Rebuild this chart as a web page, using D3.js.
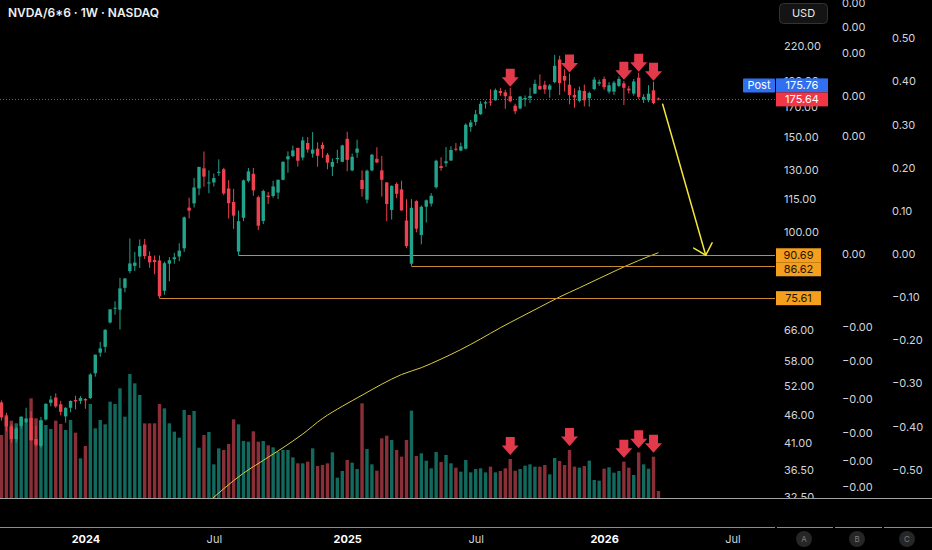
<!DOCTYPE html>
<html lang="en">
<head>
<meta charset="UTF-8" />
<title>NVDA 1W</title>
<script src="https://d3js.org/d3.v7.min.js"></script>
<style>
  html, body { margin: 0; padding: 0; background: #000; overflow: hidden; }
  svg { display: block; font-family: Inter, "Noto Sans", sans-serif; }
</style>
</head>
<body>
<div class="canvas"></div>
<script>
// weekly bars, the first one is the week of 4 Sep 2023
const firstWeek = "2023-09-04";

const open = [
  48.6, 45.8, 43.9, 41.6, 44.0, 44.6, 45.5, 41.6, 40.4, 45.2, 48.5, 49.6, 48.2, 45.8, 47.5, 49.1, 48.9,
  49.3, 49.5, 55.0, 60.0, 61.5, 68.2, 72.3, 72.0, 79.0, 84.8,
  86.7, 90.2, 94.9, 90.4, 88.9, 88.7, 78.0, 87.5, 89.2, 90.2,
  93.4, 111.0, 113.0, 120.4, 131.1, 123.2, 123.5, 128.6, 130.6, 120.4,
  113.7, 92.1, 106.3, 124.3, 128.1, 116.0, 104.9, 116.8, 116.6, 118.3,
  124.9, 136.2, 138.1, 143.0, 137.2, 146.0, 139.5, 142.5, 144.8, 138.9,
  132.0, 136.3, 134.8, 148.6, 130.0, 140.1, 124.8, 114.8, 130.0, 136.5,
  130.0, 123.5, 109.9, 122.7, 119.9, 105.1, 87.5, 114.1, 98.8, 111.4,
  112.9, 121.0, 132.4, 134.0, 135.5, 142.5, 141.4, 142.5, 156.3, 159.6,
  165.0, 172.6, 174.0, 175.0, 182.0, 181.0, 178.0, 171.0, 169.0, 175.6,
  176.6, 180.0, 186.0, 186.9, 183.0, 189.0, 208.0, 194.0, 186.9, 179.0,
  174.5, 182.0, 176.5, 183.5, 187.8, 191.5, 181.5, 181.5, 186.0, 188.0,
  183.8, 180.0, 192.5, 175.5, 175.0, 182.5, 176.3
];
const high = [
  49.0, 46.5, 44.3, 43.8, 45.8, 47.5, 46.8, 44.0, 45.7, 48.4, 50.0, 50.5, 48.9, 47.6, 49.0, 50.0, 49.9,
  49.5, 55.0, 59.5, 62.8, 66.3, 72.1, 74.6, 82.4, 82.3, 97.4,
  92.0, 97.0, 97.2, 92.2, 90.6, 90.6, 88.3, 90.0, 91.6, 95.4,
  106.9, 115.8, 125.9, 132.0, 140.8, 130.0, 128.3, 136.2, 131.4, 124.7,
  120.2, 109.6, 125.0, 131.3, 131.3, 116.8, 119.8, 118.6, 124.4, 125.0,
  135.0, 140.9, 144.4, 143.1, 149.8, 149.7, 152.9, 146.4, 146.5, 139.95,
  136.7, 141.9, 144.9, 153.1, 139.6, 148.0, 130.0, 130.4, 139.4, 143.4,
  138.2, 123.7, 122.0, 123.5, 124.4, 115.0, 115.1, 114.5, 112.0, 114.9,
  118.0, 136.0, 137.4, 143.5, 144.0, 146.0, 146.2, 158.7, 161.0, 167.9,
  174.25, 174.7, 183.3, 183.9, 184.5, 183.0, 184.5, 172.4, 178.0, 178.6,
  184.6, 191.0, 195.3, 190.0, 187.5, 212.2, 211.3, 199.6, 196.0, 184.0,
  185.5, 187.0, 181.5, 193.0, 191.0, 193.5, 189.0, 190.0, 193.5, 190.0,
  186.0, 191.5, 196.7, 179.5, 186.5, 189.3, 177.0
];
const low = [
  45.0, 43.0, 41.0, 41.0, 43.5, 44.3, 41.3, 40.3, 40.1, 45.0, 47.8, 47.5, 46.0, 44.6, 46.6, 47.2, 48.3,
  47.3, 49.3, 54.2, 59.0, 60.0, 67.9, 70.5, 66.2, 77.5, 84.0,
  84.8, 85.9, 89.3, 86.0, 83.7, 75.61, 76.7, 81.2, 87.5, 88.4,
  92.0, 106.0, 111.0, 117.0, 121.3, 118.0, 121.4, 127.0, 117.0, 106.0,
  101.4, 90.69, 104.8, 123.5, 116.7, 100.9, 103.5, 112.7, 115.7, 115.1,
  124.6, 128.7, 137.5, 132.1, 135.6, 140.1, 137.2, 132.0, 137.1, 130.6,
  126.9, 134.0, 134.6, 129.5, 129.5, 137.1, 116.3, 113.0, 129.5, 134.0,
  116.3, 104.8, 105.5, 115.5, 109.5, 93.6, 86.62, 100.0, 95.0, 104.2,
  111.5, 120.3, 129.8, 132.0, 135.4, 140.9, 141.0, 142.0, 153.1, 157.2,
  164.4, 168.9, 170.9, 174.7, 178.3, 168.8, 173.4, 165.0, 168.4, 170.4,
  172.9, 179.7, 183.0, 179.8, 176.8, 188.0, 178.9, 181.6, 172.0, 169.5,
  173.5, 170.5, 170.3, 182.5, 186.0, 183.0, 180.0, 179.0, 185.0, 171.5,
  180.0, 178.5, 176.0, 173.0, 173.5, 172.0, 175.0
];
const close = [
  45.6, 43.9, 41.6, 43.5, 45.7, 45.4, 41.4, 40.6, 45.0, 48.3, 49.2, 47.8, 46.7, 47.5, 48.9, 48.8, 49.5,
  49.0, 54.7, 59.5, 61.1, 66.1, 72.1, 72.6, 78.8, 82.2, 87.6,
  87.9, 94.3, 90.4, 88.0, 88.1, 76.2, 87.7, 88.8, 89.9, 92.5,
  106.5, 109.6, 120.9, 131.9, 126.6, 123.5, 125.8, 129.2, 117.9, 113.1,
  107.3, 104.8, 124.6, 129.4, 119.4, 102.8, 119.1, 116.0, 121.4, 124.9,
  134.8, 138.0, 141.5, 135.4, 147.6, 142.0, 141.95, 138.3, 142.4, 134.3,
  134.7, 137.0, 144.5, 135.9, 137.7, 142.6, 120.1, 129.8, 138.9, 134.4,
  124.9, 112.7, 121.7, 117.7, 109.7, 94.3, 110.9, 101.5, 111.4, 114.5,
  116.7, 135.4, 131.3, 135.1, 141.7, 142.0, 143.9, 157.75, 159.3, 164.9,
  172.4, 173.5, 173.7, 182.7, 180.45, 178.0, 174.2, 167.0, 177.8, 176.7,
  178.2, 187.6, 183.2, 183.2, 186.3, 202.5, 188.2, 190.2, 178.9, 177.0,
  182.5, 175.0, 180.5, 191.0, 189.0, 185.0, 186.5, 188.5, 191.5, 184.5,
  182.5, 189.5, 177.5, 177.5, 180.0, 173.0, 175.64
];
// millions of shares
const volume = [
  1890, 2490, 2320, 2240, 2440, 2240, 2990, 2390, 2340, 2190, 2070, 2320, 2220, 2040, 2340, 1960, 1190,
  1560, 2820, 2090, 2340, 2210, 2890, 2820, 3290, 2440, 3720,
  3440, 3090, 2240, 2240, 2240, 2820, 2690, 2240, 1990, 1810,
  2640, 2490, 2610, 1510, 1890, 1980, 1010, 1490, 1440, 1620,
  2360, 2210, 1710, 1690, 2000, 1690, 1710, 1580, 1520, 1390,
  1440, 1440, 1220, 1040, 1040, 1090, 1490, 960, 990, 1040,
  1370, 610, 810, 1140, 1060, 870, 2840, 1470, 1010, 820,
  1790, 1870, 1740, 1440, 1240, 1740, 2620, 1260, 1340, 1120,
  890, 1380, 1080, 1290, 1040, 910, 790, 1140, 770, 870,
  890, 770, 940, 770, 810, 890, 1170, 820, 870, 970,
  1010, 940, 940, 990, 710, 1200, 1110, 990, 1440, 940,
  910, 960, 1120, 540, 520, 880, 920, 760, 810, 1090,
  910, 690, 1370, 1010, 880, 1240, 210
];

// moving average, read every 4th week
const maWeeks = ["2024-06-17", "2024-07-15", "2024-08-12", "2024-09-09", "2024-10-07", "2024-11-04",
  "2024-12-02", "2024-12-30", "2025-01-27", "2025-02-24", "2025-03-24", "2025-04-21", "2025-05-19",
  "2025-06-16", "2025-07-14", "2025-08-11", "2025-09-08", "2025-10-06", "2025-11-03", "2025-12-01",
  "2025-12-29", "2026-01-26", "2026-02-23", "2026-03-23"];
const maValues = [31.3, 33.7, 36.0, 38.0, 40.1, 42.5, 45.4, 47.8, 50.1, 52.5, 54.7, 56.3, 58.4,
  60.8, 63.6, 66.7, 69.7, 72.8, 76.0, 79.0, 82.2, 85.5, 88.7, 91.7];

// weeks marked with the red arrows
const signalWeeks = ["2025-08-25", "2025-11-17", "2026-02-02", "2026-02-23", "2026-03-16"];

// horizontal support levels
const levels = [90.69, 86.62, 75.61];
const levelFrom = ["2024-08-05", "2025-04-07", "2024-04-15"];

// projected move drawing
const projFrom = { week: "2026-03-29", price: 172 };
const projTo = { week: "2026-05-29", price: 90.69 };

const postPrice = 175.76;
const lastPrice = 175.64;

const priceTicks = [220, 190, 170, 150, 130, 115, 100, 66, 58, 52, 46, 41, 36.5, 32.5];
const scaleBTicks = [0.000583, 0.000526, 0.000467, 0.000367, 0.000274, 0, -0.000168, -0.000247,
  -0.000337, -0.000414, -0.00048, -0.00054];
const scaleCTicks = [0.5, 0.4, 0.3, 0.2, 0.1, 0, -0.1, -0.2, -0.3, -0.4, -0.5];
const timeTicks = ["2024-01-01", "2024-07-01", "2025-01-06", "2025-07-07", "2026-01-05", "2026-07-06"];
const timeLabels = ["2024", "Jul", "2025", "Jul", "2026", "Jul"];

const width = 932;
const height = 550;
const paneRight = 775;
const paneBottom = 498;
const axisTop = 527;

const up = "#22a38b";
const down = "#ee4150";
const upVol = "#12695d";
const downVol = "#8a2f37";
const textColor = "#d1d4dc";

const parse = d3.utcParse("%Y-%m-%d");
const fmt2 = d3.format(".2f");
// keep the sign on values that round to zero, like the platform does
const signed2 = v => (v < 0 ? "\u2212" : "") + fmt2(Math.abs(v));

const start = parse(firstWeek);
const bars = open.map((o, i) => ({
  w: d3.utcMonday.offset(start, i),
  o: o, h: high[i], l: low[i], c: close[i], v: volume[i]
}));

const x = d3.scaleUtc()
  .domain([parse("2024-01-01"), parse("2026-01-05")])
  .range([85.4, 604.1]);
const y = d3.scaleLog().domain([32.4, 267.7]).range([paneBottom, 0]);
const yVol = d3.scaleLinear().domain([0, d3.max(volume)]).range([paneBottom, paneBottom - 124]);
const yC = d3.scaleLinear().domain([0, 0.5]).range([254, 38.3]);
const yB = d3.scaleLinear().domain([0, 0.0005]).range([254, 38.3]);

const svg = d3.select(".canvas").append("svg")
  .attr("width", width)
  .attr("height", height)
  .style("background", "#000");

svg.append("clipPath").attr("id", "pane")
  .append("rect").attr("x", 0).attr("y", 0).attr("width", paneRight).attr("height", paneBottom);
svg.append("clipPath").attr("id", "scales")
  .append("rect").attr("x", paneRight).attr("y", 0).attr("width", width - paneRight).attr("height", paneBottom);

const pane = svg.append("g").attr("clip-path", "url(#pane)");

// volume
pane.append("g").selectAll("rect").data(bars).enter().append("rect")
  .attr("x", d => x(d.w) - 1.7)
  .attr("y", d => yVol(d.v))
  .attr("width", 3.4)
  .attr("height", d => paneBottom - yVol(d.v))
  .attr("fill", d => d.c >= d.o ? upVol : downVol);

// moving average
const maLine = d3.line()
  .x(d => x(parse(d)))
  .y((d, i) => y(maValues[i]))
  .curve(d3.curveMonotoneX);
pane.append("path")
  .attr("d", maLine(maWeeks))
  .attr("fill", "none")
  .attr("stroke", "#d9cd3f")
  .attr("stroke-width", 1);

// support levels
pane.append("g").selectAll("line").data(levels).enter().append("line")
  .attr("x1", (d, i) => x(parse(levelFrom[i])))
  .attr("x2", paneRight)
  .attr("y1", d => Math.round(y(d)) + 0.5)
  .attr("y2", d => Math.round(y(d)) + 0.5)
  .attr("stroke", "#cc8a30")
  .attr("stroke-width", 1);

// last price line
pane.append("line")
  .attr("x1", 0).attr("x2", paneRight)
  .attr("y1", Math.round(y(lastPrice)) + 0.5).attr("y2", Math.round(y(lastPrice)) + 0.5)
  .attr("stroke", "#5558d8")
  .attr("stroke-width", 1)
  .attr("stroke-dasharray", "1,2");

// candles
const candles = pane.append("g").selectAll("g").data(bars).enter().append("g");
candles.append("line")
  .attr("x1", d => x(d.w)).attr("x2", d => x(d.w))
  .attr("y1", d => y(d.h)).attr("y2", d => y(d.l))
  .attr("stroke", d => d.c >= d.o ? up : down)
  .attr("stroke-width", 1);
candles.append("rect")
  .attr("x", d => x(d.w) - 1.7)
  .attr("y", d => y(Math.max(d.o, d.c)))
  .attr("width", 3.4)
  .attr("height", d => Math.max(1, Math.abs(y(d.o) - y(d.c))))
  .attr("fill", d => d.c >= d.o ? up : down);

// red signal arrows over price and volume
const arrowPath = "M0,0L-8.5,-9.5H-4.5V-18H4.5V-9.5H8.5Z";
const signals = signalWeeks.map(s => bars.find(b => +b.w === +parse(s)));
pane.append("g").selectAll("path").data(signals).enter().append("path")
  .attr("d", arrowPath)
  .attr("transform", d => `translate(${x(d.w)},${y(d.h) - 1})`)
  .attr("fill", "#e23a4b");
pane.append("g").selectAll("path").data(signals).enter().append("path")
  .attr("d", arrowPath)
  .attr("transform", d => `translate(${x(d.w)},${yVol(d.v) - 4})`)
  .attr("fill", "#e23a4b");

// projected move arrow
const p0 = [x(parse(projFrom.week)), y(projFrom.price)];
const p1 = [x(parse(projTo.week)), y(projTo.price)];
const ang = Math.atan2(p0[1] - p1[1], p0[0] - p1[0]);
const head = [ang - 0.75, ang + 0.75].map(a => [p1[0] + 14 * Math.cos(a), p1[1] + 14 * Math.sin(a)]);
const proj = svg.append("g").attr("stroke", "#f2e43c").attr("stroke-width", 1.5)
  .attr("fill", "none").attr("stroke-linecap", "round");
proj.append("line").attr("x1", p0[0]).attr("y1", p0[1]).attr("x2", p1[0]).attr("y2", p1[1]);
proj.append("path").attr("d", d3.line()([head[0], p1, head[1]]));

// right-hand scales
const scales = svg.append("g").attr("clip-path", "url(#scales)");
const priceAxis = scales.append("g").attr("transform", "translate(784,0)")
  .call(d3.axisRight(y).tickValues(priceTicks).tickFormat(fmt2).tickSize(0).tickPadding(0));
const bAxis = scales.append("g").attr("transform", "translate(842,0)")
  .call(d3.axisRight(yB).tickValues(scaleBTicks).tickFormat(signed2).tickSize(0).tickPadding(0));
const cAxis = scales.append("g").attr("transform", "translate(892,0)")
  .call(d3.axisRight(yC).tickValues(scaleCTicks).tickFormat(signed2).tickSize(0).tickPadding(0));
[priceAxis, bAxis, cAxis].forEach(a => {
  a.select(".domain").remove();
  a.selectAll("text").attr("fill", textColor).style("font-size", "11px").style("font-family", "Inter, sans-serif");
});

// level labels, pushed apart when they touch
const boxH = 14;
let prevBottom = -Infinity;
const levelBoxes = levels.map(v => ({ v, cy: y(v) }))
  .sort((a, b) => a.cy - b.cy)
  .map(d => {
    const top = Math.max(d.cy - boxH / 2, prevBottom);
    prevBottom = top + boxH;
    return { v: d.v, top };
  });
const lb = svg.append("g").selectAll("g").data(levelBoxes).enter().append("g");
lb.append("rect").attr("x", 776).attr("y", d => d.top).attr("width", 45).attr("height", boxH)
  .attr("fill", "#f59f1e");
lb.append("text").attr("x", 798.5).attr("y", d => d.top + boxH / 2).attr("dy", "0.35em")
  .attr("text-anchor", "middle").attr("fill", "#241600").style("font-size", "11px")
  .text(d => fmt2(d.v));

// post / last price labels
const lastY = y(lastPrice);
const postY = lastY - boxH;
svg.append("rect").attr("x", 743).attr("y", postY - boxH / 2).attr("width", 32).attr("height", boxH)
  .attr("rx", 1).attr("fill", "#2f6ff0");
svg.append("text").attr("x", 759).attr("y", postY).attr("dy", "0.35em").attr("text-anchor", "middle")
  .attr("fill", "#fff").style("font-size", "11px").text("Post");
svg.append("rect").attr("x", 776).attr("y", postY - boxH / 2).attr("width", 52).attr("height", boxH)
  .attr("fill", "#2f6ff0");
svg.append("text").attr("x", 802).attr("y", postY).attr("dy", "0.35em").attr("text-anchor", "middle")
  .attr("fill", "#fff").style("font-size", "11px").text(fmt2(postPrice));
svg.append("rect").attr("x", 776).attr("y", lastY - boxH / 2).attr("width", 52).attr("height", boxH)
  .attr("fill", "#f23645");
svg.append("text").attr("x", 802).attr("y", lastY).attr("dy", "0.35em").attr("text-anchor", "middle")
  .attr("fill", "#fff").style("font-size", "11px").text(fmt2(lastPrice));

// currency button
svg.append("rect").attr("x", 779.5).attr("y", 3.5).attr("width", 48).attr("height", 20).attr("rx", 4)
  .attr("fill", "#141414").attr("stroke", "#333");
svg.append("text").attr("x", 803.5).attr("y", 13.5).attr("dy", "0.35em").attr("text-anchor", "middle")
  .attr("fill", "#e8e8e8").style("font-size", "11px").text("USD");

// title
svg.append("text").attr("x", 8).attr("y", 17.3)
  .attr("fill", "#f0f0f0").style("font-size", "12px").style("font-weight", 600)
  .text("NVDA/6*6 · 1W · NASDAQ");

// pane separators
svg.append("line").attr("x1", 0).attr("x2", width).attr("y1", paneBottom + 0.5).attr("y2", paneBottom + 0.5)
  .attr("stroke", "#a3a3a3");
[[0, 775], [777, 833], [835, 882], [884, width]].forEach(s => {
  svg.append("line").attr("x1", s[0]).attr("x2", s[1]).attr("y1", axisTop + 0.5).attr("y2", axisTop + 0.5)
    .attr("stroke", "#8c8c8c");
});

// time axis
const timeAxis = svg.append("g").attr("transform", `translate(0,${axisTop})`)
  .call(d3.axisBottom(x).tickValues(timeTicks.map(parse)).tickFormat((d, i) => timeLabels[i])
    .tickSize(0).tickPadding(8));
timeAxis.select(".domain").remove();
timeAxis.selectAll("text")
  .attr("fill", (d, i) => /^\d{4}$/.test(timeLabels[i]) ? "#ffffff" : textColor)
  .style("font-size", "11px")
  .style("font-weight", (d, i) => /^\d{4}$/.test(timeLabels[i]) ? 700 : 400)
  .style("font-family", "Inter, sans-serif");

// scale buttons
const btns = svg.append("g").selectAll("g").data(["A", "B", "C"]).enter().append("g")
  .attr("transform", (d, i) => `translate(${[804, 857, 907][i]},539)`);
btns.append("circle").attr("r", 8).attr("fill", "#262626");
btns.append("text").attr("dy", "0.35em").attr("text-anchor", "middle").attr("fill", "#7c7c7c")
  .style("font-size", "8px").text(d => d);
</script>
</body>
</html>
